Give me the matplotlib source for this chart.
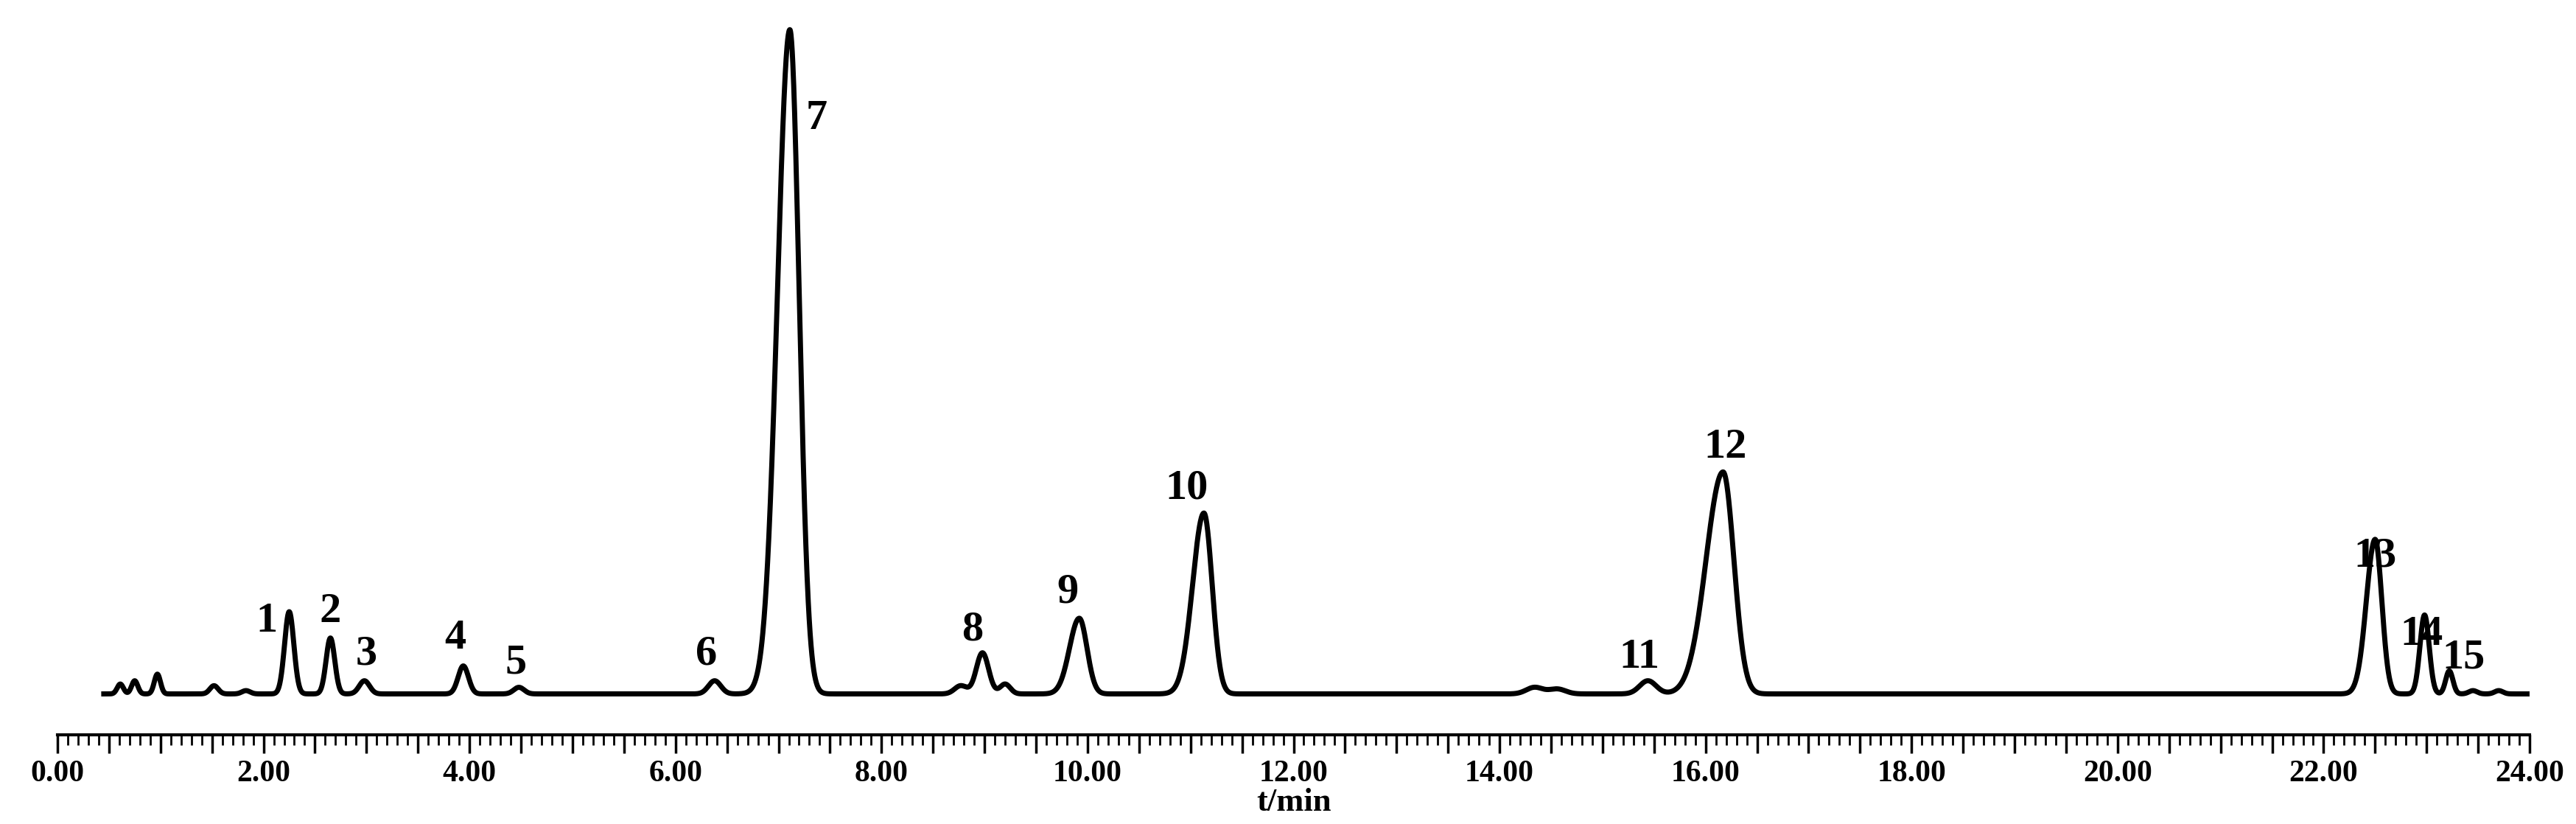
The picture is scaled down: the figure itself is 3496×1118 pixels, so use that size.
import numpy as np
import matplotlib
matplotlib.use("Agg")
import matplotlib.pyplot as plt
from matplotlib.ticker import MultipleLocator

# Peak parameters
peak_rt = [0.61, 0.75, 0.97, 1.52, 1.83, 2.25, 2.65, 2.98, 3.94, 4.48, 6.38, 7.11,
           8.77, 8.98, 9.20, 9.92, 11.13, 14.34, 14.56, 15.44, 16.17, 22.50, 22.98, 23.22, 23.45, 23.70]
peak_h = [6, 8, 12, 5, 2, 50, 34, 8, 17, 4, 8, 404,
          5, 25, 6, 46, 110, 4, 3, 8, 135, 94, 48, 14, 2, 2]
peak_sigma = [0.03, 0.03, 0.03, 0.04, 0.04, 0.045, 0.042, 0.05, 0.05, 0.05, 0.06, 0.09,
              0.06, 0.06, 0.05, 0.075, 0.08, 0.08, 0.08, 0.08, 0.105, 0.065, 0.045, 0.035, 0.04, 0.04]
peak_tail = [0, 0, 0, 0, 0, 0, 0, 0, 0, 0, 0, 0.03,
             0, 0, 0, 0.02, 0.03, 0, 0, 0, 0.06, 0.02, 0, 0, 0, 0]

labels = ["1", "2", "3", "4", "5", "6", "7", "8", "9", "10", "11", "12", "13", "14", "15"]
label_x = [2.03, 2.65, 3.00, 3.86, 4.45, 6.30, 7.37, 8.88, 9.81, 10.96, 15.36, 16.19, 22.50, 22.95, 23.36]
label_y = [44, 50, 24, 34, 19, 24, 350, 39, 62, 125, 22, 150, 84, 36, 22]

t = np.linspace(0.45, 24.0, 8000)
y = np.zeros_like(t)
for rt, h, s, tl in zip(peak_rt, peak_h, peak_sigma, peak_tail):
    sig = np.where(t < rt, s + tl, s)
    y += h * np.exp(-0.5 * ((t - rt) / sig) ** 2)

fig = plt.figure(figsize=(34.96, 11.18), dpi=100)
ax = fig.add_axes([0.0223, 0.108, 0.9597, 0.872])
ax.plot(t, y, color="black", lw=5, solid_joinstyle="round")
ax.set_xlim(0, 24)
ax.set_ylim(-25, 412)
for sp in ["top", "left", "right"]:
    ax.spines[sp].set_visible(False)
ax.spines["bottom"].set_position(("data", -25))
ax.spines["bottom"].set_linewidth(3)
ax.set_yticks([])
ax.xaxis.set_minor_locator(MultipleLocator(0.1))
ax.tick_params(axis="x", which="major", length=18, width=2.5, pad=6)
ax.tick_params(axis="x", which="minor", length=10, width=2)
major = np.arange(0, 24.01, 0.5)
ax.set_xticks(major)
ax.set_xticklabels([f"{v:.2f}" if abs(v / 2 - round(v / 2)) < 1e-6 else "" for v in major],
                   family="Liberation Serif", fontweight="bold", fontsize=30)
ax.set_xlabel("t/min", family="Liberation Serif", fontweight="bold", fontsize=32, labelpad=0)
for lab, lx, ly in zip(labels, label_x, label_y):
    ax.text(lx, ly, lab, family="Liberation Serif", fontweight="bold", fontsize=42,
            ha="center", va="center")
fig.savefig("out.png", dpi=100, facecolor="white")
